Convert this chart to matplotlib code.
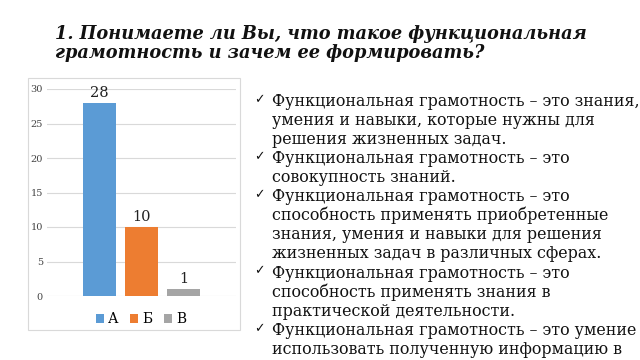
import matplotlib.pyplot as plt
from matplotlib.patches import Rectangle, Patch

categories = ['А', 'Б', 'В']
values = [28, 10, 1]
colors = ['#5B9BD5', '#ED7D31', '#A5A5A5']

title_lines = ['1. Понимаете ли Вы, что такое функциональная',
               'грамотность и зачем ее формировать?']

bullets = [
    ['Функциональная грамотность – это знания,',
     'умения и навыки, которые нужны для',
     'решения жизненных задач.'],
    ['Функциональная грамотность – это',
     'совокупность знаний.'],
    ['Функциональная грамотность – это',
     'способность применять приобретенные',
     'знания, умения и навыки для решения',
     'жизненных задач в различных сферах.'],
    ['Функциональная грамотность – это',
     'способность применять знания в',
     'практической деятельности.'],
    ['Функциональная грамотность – это умение',
     'использовать полученную информацию в'],
]

W, H = 640, 360
fig = plt.figure(figsize=(6.4, 3.6), dpi=100)
fig.patch.set_facecolor('white')

# заголовок
for i, line in enumerate(title_lines):
    fig.text(55 / W, 1 - (39 + i * 19) / H, line, fontsize=12.8, fontweight='bold',
             fontstyle='italic', family='DejaVu Serif', va='baseline', ha='left', color='#111111')

# рамка диаграммы
fig.patches.append(Rectangle((28 / W, 1 - 330 / H), 212 / W, 252 / H, transform=fig.transFigure,
                             facecolor='none', edgecolor='#D9D9D9', lw=0.8))

ax = fig.add_axes([47 / W, 1 - 296 / H, 189 / W, 207 / H])
x = range(len(categories))
bars = ax.bar(x, values, width=0.79, color=colors, zorder=3)
for b, v in zip(bars, values):
    ax.text(b.get_x() + b.get_width() / 2, v + 0.4, str(v), ha='center', va='bottom',
            fontsize=10.5, family='DejaVu Serif', color='#222222')
ax.set_xlim(-1.25, 3.25)
ax.set_ylim(0, 30)
ax.set_yticks(range(0, 31, 5))
ax.set_xticks([])
ax.grid(axis='y', color='#D9D9D9', lw=0.8, zorder=0)
for s in ax.spines.values():
    s.set_visible(False)
ax.tick_params(axis='y', length=0, pad=3, labelsize=7, labelcolor='#444444')
for t in ax.get_yticklabels():
    t.set_family('DejaVu Serif')

handles = [Patch(facecolor=c) for c in colors]
fig.legend(handles, categories, loc='center', bbox_to_anchor=(141 / W, 1 - 319 / H),
           ncol=3, frameon=False, handlelength=0.6, handleheight=0.6,
           handletextpad=0.3, columnspacing=0.8, prop={'family': 'DejaVu Serif', 'size': 10})

# текст справа
y = 105.7
for item in bullets:
    fig.text(254 / W, 1 - (y - 3) / H, '✓', fontsize=9, family=['DejaVu Sans'],
             va='baseline', ha='left', color='#111111')
    for line in item:
        fig.text(272 / W, 1 - y / H, line, fontsize=11.4, family='DejaVu Serif',
                 va='baseline', ha='left', color='#111111')
        y += 19.1

fig.savefig('out.png', dpi=100, facecolor='white')
